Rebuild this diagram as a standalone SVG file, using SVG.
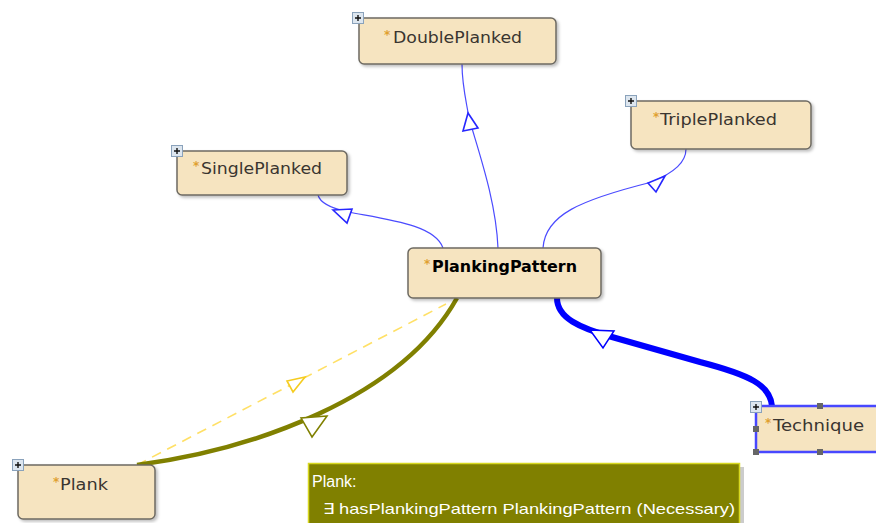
<svg xmlns="http://www.w3.org/2000/svg" width="876" height="523" viewBox="0 0 876 523">
<defs>
<style>
.node rect.box{fill:#f6e4c0;stroke:#6e6a62;stroke-width:1.5}
.lbl{font-family:"DejaVu Sans",sans-serif;font-size:16px;fill:#3a3530}
.star{font-family:"DejaVu Sans",sans-serif;font-size:12px;font-weight:bold;fill:#e0a030}
.plus rect{fill:#dde6ef;stroke:#8aa2bb;stroke-width:1}
.plus path{stroke:#111;stroke-width:1.4}
.thin{fill:none;stroke:#4b4bff;stroke-width:1.2}
.ah{fill:#fff;stroke:#2626ff;stroke-width:1.6}
.handle{fill:#666}
</style>
<filter id="sh" x="-10%" y="-10%" width="130%" height="140%"><feDropShadow dx="2" dy="2" stdDeviation="1.5" flood-color="#000" flood-opacity="0.25"/></filter>
</defs>
<rect width="876" height="523" fill="#fff"/>

<g id="connectors">
<path class="thin" d="M498,248 C496,200 478,150 469,118 C466,100 462,85 462,64"/>
<polygon class="ah" points="468,113 463,131 478,128"/>
<path class="thin" d="M443,248 C435,225 390,220 348,212 C330,208 320,203 318,195"/>
<polygon class="ah" points="333,210 352,209 347,223"/>
<path class="thin" d="M543,248 C545,215 580,200 652,182 C675,172 686,162 686,149"/>
<polygon class="ah" points="665,176 648,183 656,192"/>
<path d="M772,406 C770,385 750,375 700,362 L612,337 C580,328 557,318 557,298" fill="none" stroke="#0000ff" stroke-width="6"/>
<polygon points="590,330 614,331 603,348" fill="#fff" stroke="#0000ff" stroke-width="1.5"/>
<line x1="137" y1="465" x2="446" y2="304" stroke="#ffe066" stroke-width="1.6" stroke-dasharray="10,7"/>
<polygon points="305,377 287,381 293,392" fill="#fff" stroke="#f5cc20" stroke-width="1.6"/>
<path d="M137,465 C250,450 400,400 457,298" fill="none" stroke="#808000" stroke-width="4.5"/>
<polygon points="327,416 301,418 312,437" fill="#fff" stroke="#808000" stroke-width="1.5"/>
</g>

<g id="DoublePlanked" class="node">
<rect class="box" x="359" y="18" width="197" height="46" rx="5" filter="url(#sh)"/>
<text class="star" x="384" y="39">*</text>
<text class="lbl" x="393" y="43" textLength="129" lengthAdjust="spacingAndGlyphs">DoublePlanked</text>
<g class="plus"><rect x="352.5" y="12.5" width="11" height="11"/><path d="M355,18 h6 M358,15 v6"/></g>
</g>

<g id="TriplePlanked" class="node">
<rect class="box" x="631" y="101" width="180" height="48" rx="5" filter="url(#sh)"/>
<text class="star" x="653" y="121">*</text>
<text class="lbl" x="660" y="125" textLength="117" lengthAdjust="spacingAndGlyphs">TriplePlanked</text>
<g class="plus"><rect x="625.5" y="95.5" width="11" height="11"/><path d="M628,101 h6 M631,98 v6"/></g>
</g>

<g id="SinglePlanked" class="node">
<rect class="box" x="177" y="151" width="170" height="44" rx="5" filter="url(#sh)"/>
<text class="star" x="193" y="170">*</text>
<text class="lbl" x="201" y="174" textLength="121" lengthAdjust="spacingAndGlyphs">SinglePlanked</text>
<g class="plus"><rect x="171.5" y="145.5" width="11" height="11"/><path d="M174,151 h6 M177,148 v6"/></g>
</g>

<g id="PlankingPattern" class="node">
<rect class="box" x="408" y="248" width="193" height="50" rx="5" filter="url(#sh)"/>
<text class="star" x="424" y="268">*</text>
<text x="432" y="272" font-family="DejaVu Sans,sans-serif" font-size="16" font-weight="bold" fill="#000" textLength="145" lengthAdjust="spacingAndGlyphs">PlankingPattern</text>
</g>

<g id="Technique" class="node">
<rect x="756" y="406" width="130" height="46" rx="3" fill="#f6e4c0" stroke="#4848ff" stroke-width="2.5"/>
<text class="star" x="765" y="427">*</text>
<text class="lbl" x="773" y="431" textLength="91" lengthAdjust="spacingAndGlyphs">Technique</text>
<rect class="handle" x="817" y="403" width="6" height="6"/>
<rect class="handle" x="753" y="426" width="6" height="6"/>
<rect class="handle" x="753" y="449" width="6" height="6"/>
<rect class="handle" x="817" y="449" width="6" height="6"/>
<g class="plus"><rect x="750.5" y="401.5" width="11" height="11"/><path d="M753,407 h6 M756,404 v6"/></g>
</g>

<g id="Plank" class="node">
<rect class="box" x="18" y="465" width="137" height="54" rx="5" filter="url(#sh)"/>
<text class="star" x="53" y="486">*</text>
<text class="lbl" x="60" y="490" textLength="48" lengthAdjust="spacingAndGlyphs">Plank</text>
<g class="plus"><rect x="12.5" y="459.5" width="11" height="11"/><path d="M15,465 h6 M18,462 v6"/></g>
</g>

<g id="tooltip">
<rect x="312" y="467" width="432" height="60" fill="#9a9a9a" opacity="0.5"/>
<rect x="308.5" y="463.5" width="431" height="62" fill="#808000" stroke="#d8d820" stroke-width="1.5"/>
<text x="312" y="487" font-family="Liberation Sans,sans-serif" font-size="16" fill="#fff">Plank:</text>
<text x="323" y="514" font-family="Liberation Sans,sans-serif" font-size="15" fill="#fff" textLength="412" lengthAdjust="spacingAndGlyphs">∃ hasPlankingPattern PlankingPattern (Necessary)</text>
</g>
</svg>
